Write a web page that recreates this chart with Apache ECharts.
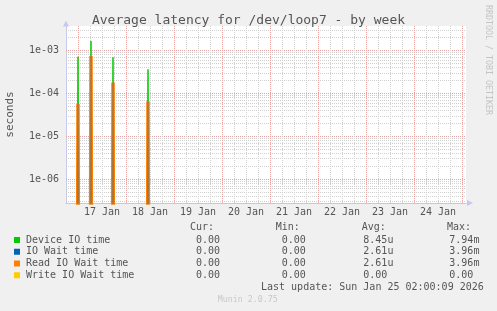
<!DOCTYPE html>
<html><head><meta charset="utf-8">
<script src="https://cdn.jsdelivr.net/npm/echarts@6/dist/echarts.min.js"></script>
<style>html,body{margin:0;padding:0;background:#f0f0f0;}#c{width:497px;height:311px;}</style>
</head><body><div id="c"></div>
<script>
// ---- data ----
const START = Date.UTC(2026, 0, 16, 18, 0);   // left edge of the plot
const END = Date.UTC(2026, 0, 25, 2, 0);      // right edge (last update)
const spikeTimes = ['2026-01-17T00:00:00Z', '2026-01-17T06:30:00Z', '2026-01-17T17:30:00Z', '2026-01-18T11:00:00Z'];
const deviceIOTime = [7.2e-4, 1.68e-3, 7.0e-4, 3.7e-4];
const ioWaitTime = [5.7e-5, 7.5e-4, 1.8e-4, 6.6e-5];
const readIOWaitTime = [5.7e-5, 7.5e-4, 1.8e-4, 6.6e-5];
const writeIOWaitTime = [0, 0, 0, 0];
const seriesNames = ['Device IO time', 'IO Wait time', 'Read IO Wait time', 'Write IO Wait time'];
const seriesColors = ['#00cc00', '#0066b3', '#ff8000', '#ffcc00'];
const curVals = ['0.00', '0.00', '0.00', '0.00'];
const minVals = ['0.00', '0.00', '0.00', '0.00'];
const avgVals = ['8.45u', '2.61u', '2.61u', '0.00'];
const maxVals = ['7.94m', '3.96m', '3.96m', '0.00'];
const monthName = 'Jan';
const Y_MIN = Math.pow(10, -6.55);
const Y_MAX = Math.pow(10, -2.425);

// ---- helpers ----
const HOUR = 3600 * 1000;
const HALF_HOUR = HOUR / 2;
const ZERO_FLOOR = 1e-12; // zero cannot sit on a log axis; drawn below the plot and clipped
function build(vals) {
  const pts = [[START, 0]];
  spikeTimes.forEach((t, i) => {
    const ms = Date.parse(t);
    pts.push([ms - HALF_HOUR, 0], [ms, vals[i]], [ms + HALF_HOUR, 0]);
  });
  pts.push([END, 0]);
  return pts.map(([t, v]) => [t, v > 0 ? v : ZERO_FLOOR]);
}
const FONT = '"DejaVu Sans Mono", monospace';
const GRAY = '#d0d0d0', RED = '#e9a3a3', TXT = '#555', ZEROLINE = '#dccb8c';

// grid lines: [x, y, kind, orientation]; kind 1 = major, 0 = minor, 2 = clamped zero line
const gridTicks = [];
for (let e = -7; e <= -2; e++) {
  for (let k = 1; k <= 9; k++) {
    const v = k * Math.pow(10, e);
    if (v > Y_MIN && v < Y_MAX) gridTicks.push([START, v, k === 1 ? 1 : 0, 0]);
  }
}
for (let t = START + 6 * HOUR; t < END; t += 6 * HOUR) {
  gridTicks.push([t, Y_MIN, new Date(t).getUTCHours() === 0 ? 1 : 0, 1]);
}
gridTicks.push([START, Y_MIN, 2, 0]);

function txt(x, y, text, o = {}) {
  return {
    type: 'text', x, y, rotation: o.rot || 0, silent: true, z: 100,
    style: {
      text, fill: o.fill || TXT, font: (o.size || 10) + 'px ' + FONT,
      align: o.align || 'left', verticalAlign: 'middle',
      textAlign: o.align || 'left', textVerticalAlign: 'middle'
    }
  };
}
const graphics = [];
const rowY = [240, 251.75, 263.5, 275.25];
graphics.push(txt(190, 227.3, 'Cur:'), txt(275.7, 227.3, 'Min:'), txt(361.7, 227.3, 'Avg:'), txt(447, 227.3, 'Max:'));
seriesNames.forEach((n, i) => {
  graphics.push({ type: 'rect', shape: { x: 14, y: rowY[i] - 3, width: 6, height: 6 }, style: { fill: seriesColors[i] }, z: 100, silent: true });
  graphics.push(txt(26, rowY[i], n));
  graphics.push(txt(196, rowY[i], curVals[i]), txt(281.7, rowY[i], minVals[i]), txt(363.3, rowY[i], avgVals[i]), txt(449.3, rowY[i], maxVals[i]));
});
graphics.push(txt(261, 287.7, 'Last update: Sun Jan 25 02:00:09 2026'));
graphics.push(txt(247.7, 300, 'Munin 2.0.75', { align: 'center', size: 8.3, fill: '#c8c8c8' }));
graphics.push(txt(488, 60, 'RRDTOOL / TOBI OETIKER', { align: 'center', size: 8.3, fill: '#c4c4c4', rot: -Math.PI / 2 }));

const chart = echarts.init(document.getElementById('c'), null, { renderer: 'canvas' });
chart.setOption({
  animation: false,
  backgroundColor: '#f0f0f0',
  title: {
    text: 'Average latency for /dev/loop7 - by week', left: 'center', top: 9,
    textStyle: { fontFamily: FONT, fontSize: 13, fontWeight: 'normal', color: TXT }
  },
  grid: { left: 66, top: 26, width: 400, height: 177, show: true, backgroundColor: '#ffffff', borderWidth: 0,
          containLabel: false, outerBoundsMode: 'none' },
  xAxis: {
    type: 'value', min: START, max: END, interval: 6 * HOUR,
    axisLine: { show: true, lineStyle: { color: '#c5c9f0', width: 1 }, symbol: ['none', 'triangle'], symbolSize: [6, 6], symbolOffset: [0, 4] },
    axisTick: { show: false },
    axisLabel: {
      margin: 4, fontFamily: FONT, fontSize: 10, color: TXT,
      formatter: v => { const d = new Date(v); return (d.getUTCHours() === 12 && d.getUTCMinutes() === 0) ? d.getUTCDate() + ' ' + monthName : ''; }
    },
    splitLine: { show: false }
  },
  yAxis: {
    type: 'log', logBase: 10, min: Y_MIN, max: Y_MAX,
    name: 'seconds', nameLocation: 'middle', nameGap: 50,
    nameTextStyle: { fontFamily: FONT, fontSize: 11, color: TXT },
    axisLine: { show: true, lineStyle: { color: '#c5c9f0', width: 1 }, symbol: ['none', 'triangle'], symbolSize: [6, 6], symbolOffset: [0, 2.5] },
    axisTick: { show: false },
    axisLabel: {
      margin: 7, fontFamily: FONT, fontSize: 10, color: TXT,
      formatter: v => { const l = Math.log10(v); const e = Math.round(l); if (Math.abs(l - e) > 0.01) return ''; return '1e' + (e < 0 ? '-' : '+') + String(Math.abs(e)).padStart(2, '0'); }
    },
    splitLine: { show: false }
  },
  graphic: graphics,
  series: [
    { name: 'grid', type: 'custom', silent: true, z: 1, clip: false, data: gridTicks, encode: { x: 0, y: 1 },
      renderItem: (params, api) => {
        const kind = api.value(2), vertical = api.value(3) === 1;
        const stroke = kind === 1 ? RED : kind === 2 ? ZEROLINE : GRAY;
        const lineDash = kind === 2 ? null : [1, 1];
        if (vertical) {
          const t = api.value(0);
          const p1 = api.coord([t, Y_MIN]), p2 = api.coord([t, Y_MAX]);
          const x = Math.round(p1[0] - 0.5) + 0.5;
          return { type: 'line', shape: { x1: x, y1: p1[1], x2: x, y2: p2[1] }, style: { stroke, lineWidth: 1, lineDash } };
        }
        const v = api.value(1);
        const p1 = api.coord([START, v]), p2 = api.coord([END, v]);
        const y = Math.round(p1[1] - 0.5) + 0.5;
        return { type: 'line', shape: { x1: p1[0], y1: y, x2: p2[0], y2: y }, style: { stroke, lineWidth: 1, lineDash } };
      } },
    { name: seriesNames[0], type: 'line', data: build(deviceIOTime), showSymbol: false, z: 10, clip: true,
      lineStyle: { color: seriesColors[0], width: 1.5, join: 'bevel' } },
    { name: seriesNames[2], type: 'line', data: build(readIOWaitTime), showSymbol: false, z: 11, clip: true,
      lineStyle: { color: seriesColors[2], width: 3.5, join: 'bevel' } },
    { name: seriesNames[1], type: 'line', data: build(ioWaitTime), showSymbol: false, z: 12, clip: true,
      lineStyle: { color: seriesColors[1], width: 1.5, opacity: 0.35, join: 'bevel' } },
    { name: seriesNames[3], type: 'line', data: build(writeIOWaitTime), showSymbol: false, z: 13, clip: true,
      lineStyle: { color: seriesColors[3], width: 1 } }
  ]
});
</script></body></html>
